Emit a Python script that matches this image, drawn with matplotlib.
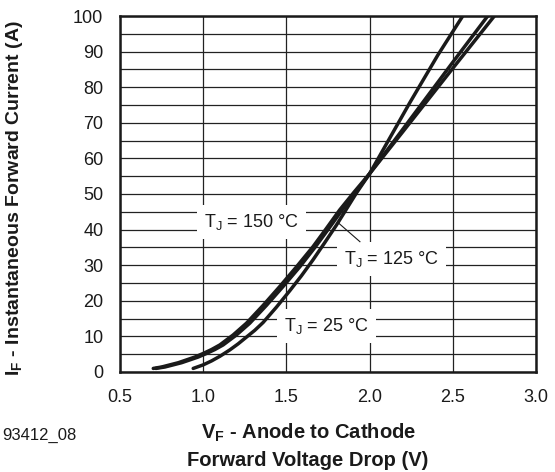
import matplotlib
matplotlib.use("Agg")
import matplotlib.pyplot as plt
from matplotlib.ticker import MultipleLocator

plt.rcParams["font.family"] = ["Liberation Sans", "DejaVu Sans"]
plt.rcParams["mathtext.fontset"] = "custom"
plt.rcParams["mathtext.rm"] = "Liberation Sans"
plt.rcParams["mathtext.bf"] = "Liberation Sans:bold"

# forward characteristics
vf_25 = [0.94, 1.00, 1.05, 1.10, 1.16, 1.21, 1.26, 1.31, 1.36, 1.44, 1.52, 1.59, 1.66,
         1.73, 1.80, 1.86, 1.92, 2.00, 2.24, 2.41, 2.56]
if_25 = [1.0, 2.0, 3.1, 4.4, 6.2, 7.9, 9.8, 11.7, 13.9, 18.2, 22.8, 27.0, 31.5,
         36.3, 41.2, 45.7, 50.2, 55.7, 75.5, 89.0, 100.0]

vf_125 = [0.715, 0.77, 0.82, 0.87, 0.92, 0.97, 1.02, 1.07, 1.12, 1.20, 1.28, 1.38,
          1.48, 1.58, 1.675, 1.755, 1.835, 1.92, 2.00, 2.20, 2.50, 2.71]
if_125 = [1.0, 1.4, 2.0, 2.6, 3.4, 4.2, 5.2, 6.3, 7.6, 10.4, 13.7, 18.7,
          24.0, 29.5, 35.2, 40.3, 45.5, 50.7, 55.7, 68.2, 87.0, 100.0]

vf_150 = [0.70, 0.75, 0.80, 0.85, 0.90, 0.95, 1.00, 1.05, 1.10, 1.18, 1.26, 1.36,
          1.46, 1.56, 1.66, 1.74, 1.82, 1.91, 2.00, 2.20, 2.50, 2.75]
if_150 = [1.0, 1.4, 2.0, 2.6, 3.4, 4.2, 5.2, 6.3, 7.6, 10.4, 13.7, 18.7,
          24.0, 29.5, 35.2, 40.3, 45.5, 50.7, 55.7, 67.5, 85.3, 100.0]

x_ticks = [0.5, 1.0, 1.5, 2.0, 2.5, 3.0]
y_ticks = [0, 10, 20, 30, 40, 50, 60, 70, 80, 90, 100]


def main():
    fig = plt.figure(figsize=(5.55, 4.72), dpi=100)
    ax = fig.add_axes([0.2162, 0.2119, 0.7495, 0.7542])

    ax.set_xlim(0.5, 3.0)
    ax.set_ylim(0, 100)
    ax.set_xticks(x_ticks)
    ax.set_xticklabels([f"{v:.1f}" for v in x_ticks])
    ax.set_yticks(y_ticks)
    ax.yaxis.set_minor_locator(MultipleLocator(5))
    ax.tick_params(which="both", length=0, labelsize=13, colors="#1a1a1a")
    ax.tick_params(axis="x", pad=12)
    ax.tick_params(axis="y", pad=12)

    ax.grid(True, which="both", color="#222222", linewidth=0.9, zorder=1)
    ax.set_axisbelow(True)
    for sp in ax.spines.values():
        sp.set_linewidth(1.8)
        sp.set_color("#1a1a1a")

    # curves
    for vf, i_f in [(vf_25, if_25), (vf_125, if_125), (vf_150, if_150)]:
        ax.plot(vf, i_f, color="#1a1a1a", linewidth=2.5, solid_capstyle="round", zorder=5)

    box = dict(boxstyle="square,pad=0.4", facecolor="white", edgecolor="none")
    ax.text(1.29, 42.2, r"T$_\mathregular{J}$ = 150 °C", fontsize=13, ha="center", va="center",
            bbox=box, zorder=3, color="#1a1a1a")
    ax.text(2.13, 31.8, r"T$_\mathregular{J}$ = 125 °C", fontsize=13, ha="center", va="center",
            bbox=box, zorder=3, color="#1a1a1a")
    ax.text(1.74, 12.9, r"T$_\mathregular{J}$ = 25 °C", fontsize=13, ha="center", va="center",
            bbox=box, zorder=3, color="#1a1a1a")
    # leader line for 125 °C label
    ax.plot([1.812, 1.942], [41.9, 36.6], color="#1a1a1a", linewidth=0.8, zorder=4)

    # axis titles
    fig.text(15 / 555, 1 - 198 / 472, r"I$_\mathbf{F}$ - Instantaneous Forward Current (A)",
             rotation=90, ha="center", va="center", fontsize=14, fontweight="bold", color="#1a1a1a")
    fig.text(309 / 555, 1 - 433 / 472, r"V$_\mathbf{F}$ - Anode to Cathode",
             ha="center", va="center", fontsize=14.5, fontweight="bold", color="#1a1a1a")
    fig.text(308 / 555, 1 - 460 / 472, "Forward Voltage Drop (V)",
             ha="center", va="center", fontsize=14.5, fontweight="bold", color="#1a1a1a")
    fig.text(2 / 555, 1 - 435 / 472, "93412_08", ha="left", va="center", fontsize=12, color="#1a1a1a")

    fig.savefig("out.png", dpi=100)
    plt.close(fig)


if __name__ == "__main__":
    main()
